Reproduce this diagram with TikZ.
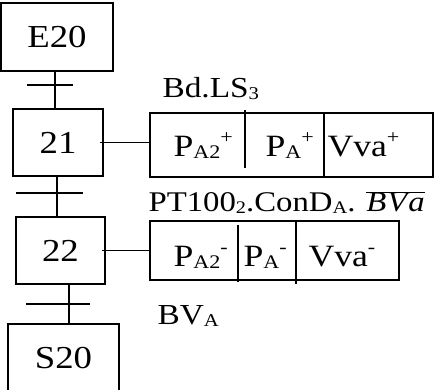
\documentclass[tikz,border=0pt]{standalone}
\usepackage{fontspec}
\usepackage{graphicx}
\setmainfont{Liberation Serif}[FakeStretch=1.15]
\newcommand{\lidx}[1]{\raisebox{-0.06em}{\scalebox{0.62}{#1}}}
\newcommand{\uidx}[1]{\raisebox{0.42em}{\scalebox{0.62}{#1}}}

\begin{document}
\begin{tikzpicture}[x=1pt,y=1pt,line width=1.1pt,
  stepbox/.style={draw,inner sep=0pt,font=\fontsize{32}{34}\selectfont},
  actbox/.style={draw,inner sep=0pt},
  acttext/.style={anchor=base west,inner sep=0pt,font=\fontsize{31}{33}\selectfont},
  condtext/.style={anchor=base west,inner sep=0pt,font=\fontsize{29}{31}\selectfont}]
\useasboundingbox (0,0) rectangle (434,390);
\node[stepbox,minimum width=112,minimum height=68] (e20) at (57,353) {E20};
\node[stepbox,minimum width=90,minimum height=67] (s21) at (58,247.5) {21};
\node[stepbox,minimum width=89,minimum height=67] (s22) at (60.5,139.5) {22};
\node[stepbox,minimum width=111,minimum height=68] (s20) at (63.5,32) {S20};
\node[actbox,minimum width=283,minimum height=64] (act1) at (291.5,245) {};
\node[actbox,minimum width=249,minimum height=59] (act2) at (274.5,139.5) {};
\draw (245,222) -- (245,280);
\draw (324,213) -- (324,277);
\draw (238,108) -- (238,165);
\draw (296,106) -- (296,169);
\node[acttext] (pa2p) at (173,233) {P\lidx{A2}\uidx{+}};
\node[acttext] (pap) at (265,233) {P\lidx{A}\uidx{+}};
\node[acttext] (vvap) at (327,233) {Vva\uidx{+}};
\node[acttext] (pa2m) at (173,123) {P\lidx{A2}\uidx{-}};
\node[acttext] (pam) at (243,123) {P\lidx{A}\uidx{-}};
\node[acttext] (vvam) at (308,123) {Vva\uidx{-}};
\coordinate (t1) at (55,305);
\coordinate (t2) at (57,197);
\coordinate (t3) at (69,86);
\draw (t1 |- e20.south) -- (t1 |- s21.north);
\draw (t2 |- s21.south) -- (t2 |- s22.north);
\draw (t3 |- s22.south) -- (t3 |- s20.north);
\draw ([xshift=-28]t1) -- ([xshift=18]t1);
\draw ([xshift=-41]t2) -- ([xshift=26]t2);
\draw ([xshift=-43]t3) -- ([xshift=21]t3);
\draw ([xshift=-4]s21.east) -- (s21.east -| act1.west);
\draw ([xshift=-4]s22.east) -- (s22.east -| act2.west);
\node[condtext] (c1) at (162,292) {Bd.LS\lidx{3}};
\node[condtext,font=\fontsize{28.5}{30}\selectfont] (c2) at (148,178) {PT100\lidx{2}.ConD\lidx{A}. $\overline{\mbox{\textit{B\kern1pt V\kern1pt a}}}$};
\node[condtext] (c3) at (157,65) {BV\lidx{A}};
\end{tikzpicture}
\end{document}
